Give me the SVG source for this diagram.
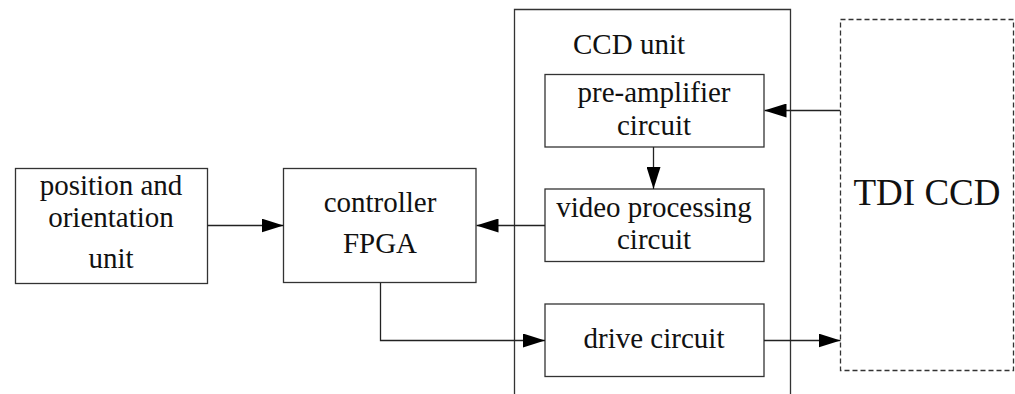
<svg xmlns="http://www.w3.org/2000/svg" width="1015" height="394" viewBox="0 0 1015 394">
<style>
.box{fill:#fff;stroke:#333;stroke-width:1.3}
.dash{fill:#fff;stroke:#333;stroke-width:1.3;stroke-dasharray:5,3}
.t{font-family:"Liberation Serif","Times New Roman",serif;font-size:29px;fill:#111;text-anchor:middle}
.big{font-size:37px}
.c{fill:none;stroke:#222;stroke-width:1.3}
</style>
<defs>
<marker id="ah" markerWidth="22" markerHeight="14" refX="22" refY="7" orient="auto" markerUnits="userSpaceOnUse">
<path d="M0,0 L22,7 L0,14 Z" fill="#000"/>
</marker>
</defs>
<rect width="1015" height="394" fill="#fff"/>
<g id="ccd-unit">
<path class="box" d="M514.5,394 V9.5 H790.5 V394" fill="none"/>
<text class="t" x="573" y="54" text-anchor="start" style="text-anchor:start">CCD unit</text>
</g>
<g id="tdi-ccd">
<rect class="dash" x="840.5" y="19.5" width="173" height="351"/>
<text class="t big" x="927" y="205">TDI CCD</text>
</g>
<g id="position">
<rect class="box" x="15.5" y="168.5" width="192" height="115"/>
<text class="t" x="111" y="195">position and</text>
<text class="t" x="111" y="227">orientation</text>
<text class="t" x="111" y="268">unit</text>
</g>
<g id="controller">
<rect class="box" x="283.5" y="168.5" width="192.5" height="114"/>
<text class="t" x="380" y="212">controller</text>
<text class="t" x="380" y="253">FPGA</text>
</g>
<g id="pre-amplifier">
<rect class="box" x="545" y="74.5" width="219" height="72.5"/>
<text class="t" x="654" y="102">pre-amplifier</text>
<text class="t" x="654" y="135">circuit</text>
</g>
<g id="video">
<rect class="box" x="545" y="189" width="219" height="72.5"/>
<text class="t" x="654" y="217">video processing</text>
<text class="t" x="654" y="249">circuit</text>
</g>
<g id="drive">
<rect class="box" x="545" y="304" width="219" height="72.5"/>
<text class="t" x="654" y="348">drive circuit</text>
</g>
<g id="connectors">
<path class="c" d="M840,110.5 H764.5" marker-end="url(#ah)"/>
<path class="c" d="M653.5,147 V189" marker-end="url(#ah)"/>
<path class="c" d="M545,225.5 H476.5" marker-end="url(#ah)"/>
<path class="c" d="M207.5,225.5 H283.5" marker-end="url(#ah)"/>
<path class="c" d="M380.5,283 V340.5 H545" marker-end="url(#ah)"/>
<path class="c" d="M764,340.5 H840.5" marker-end="url(#ah)"/>
</g>
</svg>
